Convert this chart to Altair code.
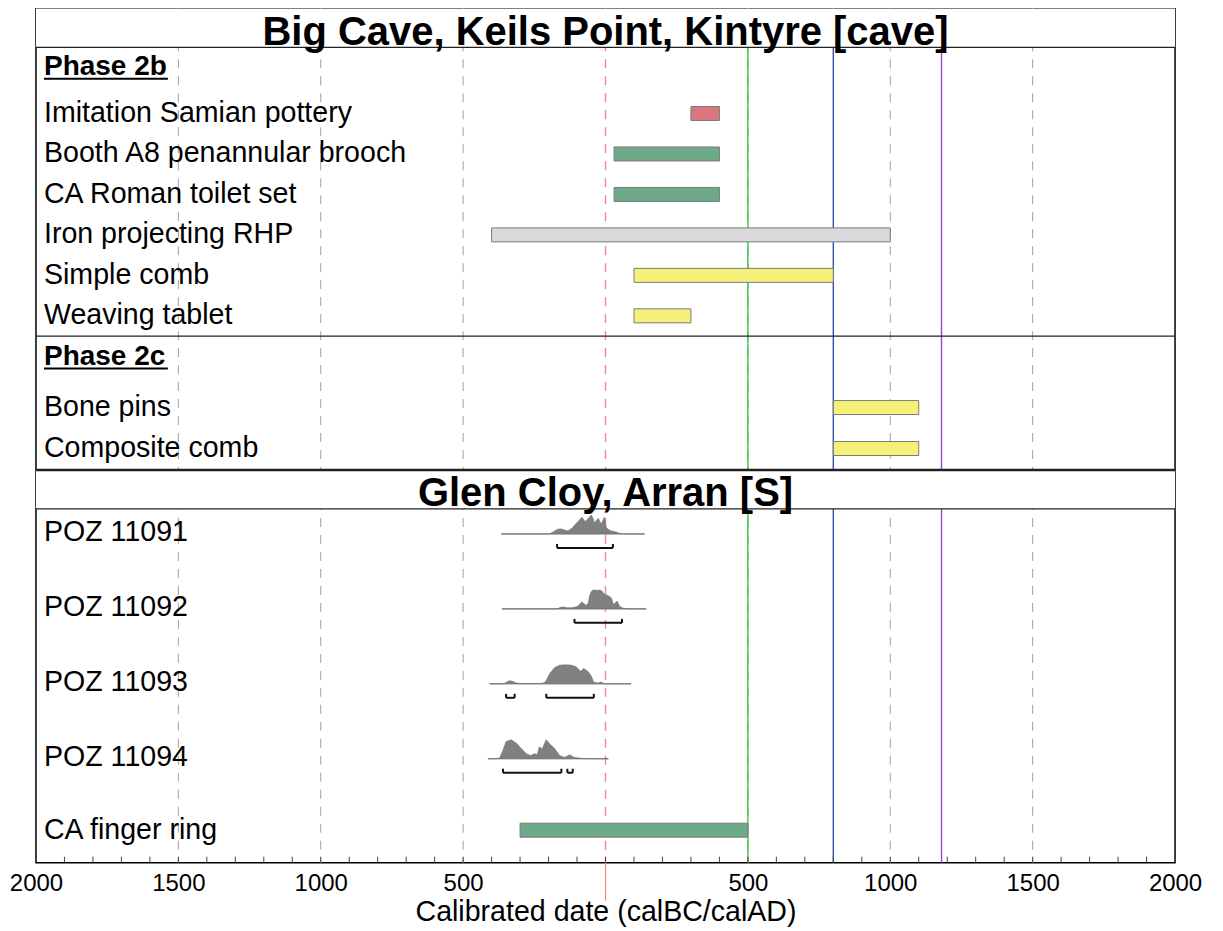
import altair as alt
import pandas as pd

# ---------------- data ----------------
axis_label_years = [-2000, -1500, -1000, -500, 500, 1000, 1500, 2000]
minor_tick_years = list(range(-1900, 2000, 100))
grid_years = [-1500, -1000, -500, 500, 1000, 1500]
zero_year = [0]
boundary_years = [500, 800, 1180]
boundary_colors = ["#3cc43c", "#3550a8", "#9a45c0"]

site_titles = ["Big Cave, Keils Point, Kintyre [cave]", "Glen Cloy, Arran [S]"]
phase_labels = ["Phase 2b", "Phase 2c"]

p2b_items = ["Imitation Samian pottery", "Booth A8 penannular brooch", "CA Roman toilet set",
             "Iron projecting RHP", "Simple comb", "Weaving tablet"]
p2b_start = [300, 30, 30, -400, 100, 100]
p2b_end = [400, 400, 400, 1000, 800, 300]
p2b_kind = ["red", "green", "green", "grey", "yellow", "yellow"]

p2c_items = ["Bone pins", "Composite comb"]
p2c_start = [800, 800]
p2c_end = [1100, 1100]
p2c_kind = ["yellow", "yellow"]

poz_labels = ["POZ 11091", "POZ 11092", "POZ 11093", "POZ 11094"]
poz_line_start = [-366, -364, -407, -413]
poz_line_end = [137, 143, 90, 10]

poz_11091_year = [-366, -196, -180, -167, -156, -144, -132, -118, -103, -93, -83, -77, -71, -60, -50,
                  -44, -39, -32, -25, -20, -15, -9, -4, 2, 10, 20, 30, 37, 49, 60, 137]
poz_11091_prob = [0, 0, 2.5, 4.3, 4.5, 3.5, 2.7, 5, 9.3, 12, 15, 13, 11, 14, 17,
                  14, 10, 12, 14, 11, 9, 12, 15, 6, 4, 2.7, 2.2, 1.7, 0.5, 0, 0]
poz_11092_year = [-364, -170, -158, -147, -137, -120, -100, -83, -68, -60, -56, -50, -44, -35, -27,
                  -20, -13, -4, 8, 20, 28, 35, 41, 49, 61, 78, 143]
poz_11092_prob = [0, 0, 1.5, 1.8, 1.2, 1.0, 2, 6.7, 3.3, 6, 12.7, 17, 18.7, 18.3, 18.3,
                  18.6, 17.7, 14.3, 13.3, 11, 4.3, 6, 7.7, 2.7, 0.7, 0, 0]
poz_11093_year = [-407, -365, -354, -345, -337, -325, -313, -300, -230, -215, -208, -196, -179, -161,
                  -140, -120, -103, -88, -76, -60, -50, -42, -27, -15, -4, 90]
poz_11093_prob = [0, 0, 0.5, 2, 3, 2.2, 0.7, 0.3, 0.3, 1, 3.3, 10, 15.7, 18.3,
                  18.6, 18.3, 16.7, 12.3, 15, 11.7, 7.7, 1.7, 0.7, 1.7, 0, 0]
poz_11094_year = [-413, -385, -372, -360, -349, -331, -313, -296, -278, -263, -249, -240, -232, -223,
                  -208, -196, -179, -161, -144, -126, -109, -85, -50, 10]
poz_11094_prob = [0, 0, 0.7, 8, 16.3, 18, 14.7, 9.7, 4.7, 3, 4.7, 4, 11.3, 9,
                  18, 14, 9.7, 3, 1.3, 3.7, 1.3, 0.3, 0, 0]

poz_range_label = ["POZ 11091", "POZ 11092", "POZ 11093", "POZ 11093", "POZ 11094", "POZ 11094"]
poz_range_from = [-170, -109, -349, -208, -360, -134]
poz_range_to = [26, 58, -319, -41, -155, -115]

ring_item = ["CA finger ring"]
ring_start = [-300]
ring_end = [500]
ring_kind = ["green"]

kind_colors = {"red": "#d9767e", "green": "#6ea98a", "grey": "#d9d9dc", "yellow": "#f5f07a"}

# ---------------- layout (plot-area pixel offsets from top) ----------------
H = 855
W = 1140
title_centers = [19.5, 481.5]
phase_centers = [57, 347]
p2b_centers = [103.7 + 40.5 * k for k in range(6)]
p2c_centers = [398, 439]
poz_centers = [523, 598, 673, 748]
ring_centers = [821]
sep_rows = [39, 328, 501]
thick_sep_rows = [462]
bands = [(0, 39), (462, 501)]
FONT = "Liberation Sans, Arial, Helvetica, sans-serif"

xs = alt.Scale(domain=[-2000, 2000], nice=False, zero=False)
ys = alt.Scale(domain=[0, H], reverse=True, nice=False, zero=False)

x_axis = alt.Axis(values=axis_label_years, labelExpr="format(abs(datum.value), 'd')",
                  title="Calibrated date (calBC/calAD)", domain=False, ticks=False,
                  grid=False, labelFontSize=24, titleFontSize=28.6, labelFont=FONT,
                  titleFont=FONT, titleFontWeight="normal", labelColor="black",
                  titleColor="black", labelPadding=9, titlePadding=2,
                  labelFlush=False, labelOverlap=False)


def X(f):
    return alt.X(f, type="quantitative", scale=xs, axis=x_axis)


def Y(f):
    return alt.Y(f, type="quantitative", scale=ys, axis=None)


# ---------- vertical lines ----------
grid_df = pd.DataFrame({"yr": grid_years, "y0": 0, "y1": H})
grid = alt.Chart(grid_df).mark_rule(color="#a0a0a0", strokeWidth=1, strokeDash=[9, 8]).encode(
    x=X("yr"), y=Y("y0"), y2="y1")

zero_df = pd.DataFrame({"yr": zero_year, "y0": 0, "y1": H})
zero = alt.Chart(zero_df).mark_rule(color="#f4868a", strokeWidth=1.4, strokeDash=[9, 8]).encode(
    x=X("yr"), y=Y("y0"), y2="y1")
zero_tail_df = pd.DataFrame({"yr": zero_year, "y0": H, "y1": H + 38})
zero_tail = alt.Chart(zero_tail_df).mark_rule(color="#f4868a", strokeWidth=1.2).encode(
    x=X("yr"), y=Y("y0"), y2="y1")

bnd_df = pd.DataFrame({"yr": boundary_years, "c": boundary_colors, "y0": 0, "y1": H})
bnd = alt.Chart(bnd_df).mark_rule(strokeWidth=1.4).encode(
    x=X("yr"), y=Y("y0"), y2="y1", color=alt.Color("c:N", scale=None))

tick_df = pd.DataFrame({"yr": minor_tick_years, "y0": H - 6, "y1": H})
ticks = alt.Chart(tick_df).mark_rule(color="#444444", strokeWidth=1).encode(
    x=X("yr"), y=Y("y0"), y2="y1")

# ---------- title bands ----------
band_df = pd.DataFrame({"y0": [b[0] for b in bands], "y1": [b[1] for b in bands],
                        "x0": -2000, "x1": 2000})
band = alt.Chart(band_df).mark_rect(color="white").encode(
    x=X("x0"), x2="x1", y=Y("y0"), y2="y1")

sep_df = pd.DataFrame({"y": sep_rows, "x0": -2000, "x1": 2000})
sep = alt.Chart(sep_df).mark_rule(color="#222222", strokeWidth=1.3).encode(
    x=X("x0"), x2="x1", y=Y("y"))
tsep_df = pd.DataFrame({"y": thick_sep_rows, "x0": -2000, "x1": 2000})
tsep = alt.Chart(tsep_df).mark_rule(color="#222222", strokeWidth=2.6).encode(
    x=X("x0"), x2="x1", y=Y("y"))

# ---------- bars ----------
bar_rows = []
for names, st, en, kd, cen in [(p2b_items, p2b_start, p2b_end, p2b_kind, p2b_centers),
                                (p2c_items, p2c_start, p2c_end, p2c_kind, p2c_centers),
                                (ring_item, ring_start, ring_end, ring_kind, ring_centers)]:
    for n, s, e, k, c in zip(names, st, en, kd, cen):
        bar_rows.append({"name": n, "s": s, "e": e, "fill": kind_colors[k],
                         "y0": c + 1.5 - 7, "y1": c + 1.5 + 7})
bar_df = pd.DataFrame(bar_rows)
bars = alt.Chart(bar_df).mark_rect(stroke="#7a7a7a", strokeWidth=1).encode(
    x=X("s"), x2="e", y=Y("y0"), y2="y1", fill=alt.Fill("fill:N", scale=None))

# ---------- densities ----------
dens_rows = []
series = [(poz_11091_year, poz_11091_prob), (poz_11092_year, poz_11092_prob),
          (poz_11093_year, poz_11093_prob), (poz_11094_year, poz_11094_prob)]
for lab, (yrs, pr), c in zip(poz_labels, series, poz_centers):
    base = c + 3
    m = max(pr)
    for yv, pv in zip(yrs, pr):
        dens_rows.append({"id": lab, "yr": yv, "top": base - pv / m * 19.0, "base": base})
dens_df = pd.DataFrame(dens_rows)
dens = alt.Chart(dens_df).mark_area(color="#808080", stroke="#6a6a6a", strokeWidth=0.6,
                                    interpolate="linear").encode(
    x=X("yr"), y=Y("top"), y2="base", detail="id:N")

bl_df = pd.DataFrame({"s": poz_line_start, "e": poz_line_end, "y": [c + 3 for c in poz_centers]})
baseline = alt.Chart(bl_df).mark_rule(color="#9a9a9a", strokeWidth=1).encode(
    x=X("s"), x2="e", y=Y("y"))

cmap = dict(zip(poz_labels, poz_centers))
rng_df = pd.DataFrame({"f": poz_range_from, "t": poz_range_to,
                       "y": [cmap[l] + 17 for l in poz_range_label],
                       "yt": [cmap[l] + 13 for l in poz_range_label]})
rng = alt.Chart(rng_df).mark_rule(color="#111111", strokeWidth=2).encode(
    x=X("f"), x2="t", y=Y("y"))
rng_l = alt.Chart(rng_df).mark_rule(color="#111111", strokeWidth=2).encode(
    x=X("f"), y=Y("yt"), y2="y")
rng_r = alt.Chart(rng_df).mark_rule(color="#111111", strokeWidth=2).encode(
    x=X("t"), y=Y("yt"), y2="y")

# ---------- texts ----------
lab_rows = []
for n, c in zip(p2b_items + p2c_items + poz_labels + ring_item,
                p2b_centers + p2c_centers + poz_centers + ring_centers):
    lab_rows.append({"t": n, "y": c + 10})
lab_df = pd.DataFrame(lab_rows)
labels = alt.Chart(lab_df).mark_text(align="left", baseline="alphabetic", fontSize=28.6,
                                     font=FONT, color="black").encode(
    x=alt.value(8), y=Y("y"), text="t:N")

ph_df = pd.DataFrame({"t": phase_labels, "y": [c + 10 for c in phase_centers],
                      "u": [c + 13.5 for c in phase_centers]})
phases = alt.Chart(ph_df).mark_text(align="left", baseline="alphabetic", fontSize=28,
                                    fontWeight="bold", font=FONT, color="black").encode(
    x=alt.value(8), y=Y("y"), text="t:N")
underline = alt.Chart(ph_df).mark_rule(color="black", strokeWidth=2).encode(
    x=alt.value(8), x2=alt.value(132), y=Y("u"))

ti_df = pd.DataFrame({"t": site_titles, "y": [c + 16.8 for c in title_centers], "x": 0})
titles = alt.Chart(ti_df).mark_text(align="center", baseline="alphabetic", fontSize=40,
                                    fontWeight="bold", font=FONT, color="black").encode(
    x=X("x"), y=Y("y"), text="t:N")

# ---------- axis carrier ----------
ax_df = pd.DataFrame({"yr": axis_label_years})
axis_layer = alt.Chart(ax_df).mark_point(opacity=0).encode(x=X("yr"), y=alt.value(H))

chart = alt.layer(
    grid, zero, zero_tail, bnd, ticks, band, sep, tsep, bars, baseline, dens,
    rng, rng_l, rng_r, labels, phases, underline, titles, axis_layer
).properties(
    width=W, height=H,
    autosize=alt.AutoSizeParams(type="none"),
    padding={"left": 28, "top": 0, "right": 40, "bottom": 68},
).configure(
    background="white",
    view=alt.ViewConfig(stroke="black", strokeWidth=1.5),
)

chart.save("out.html", embed_options={"renderer": "svg", "actions": False})
